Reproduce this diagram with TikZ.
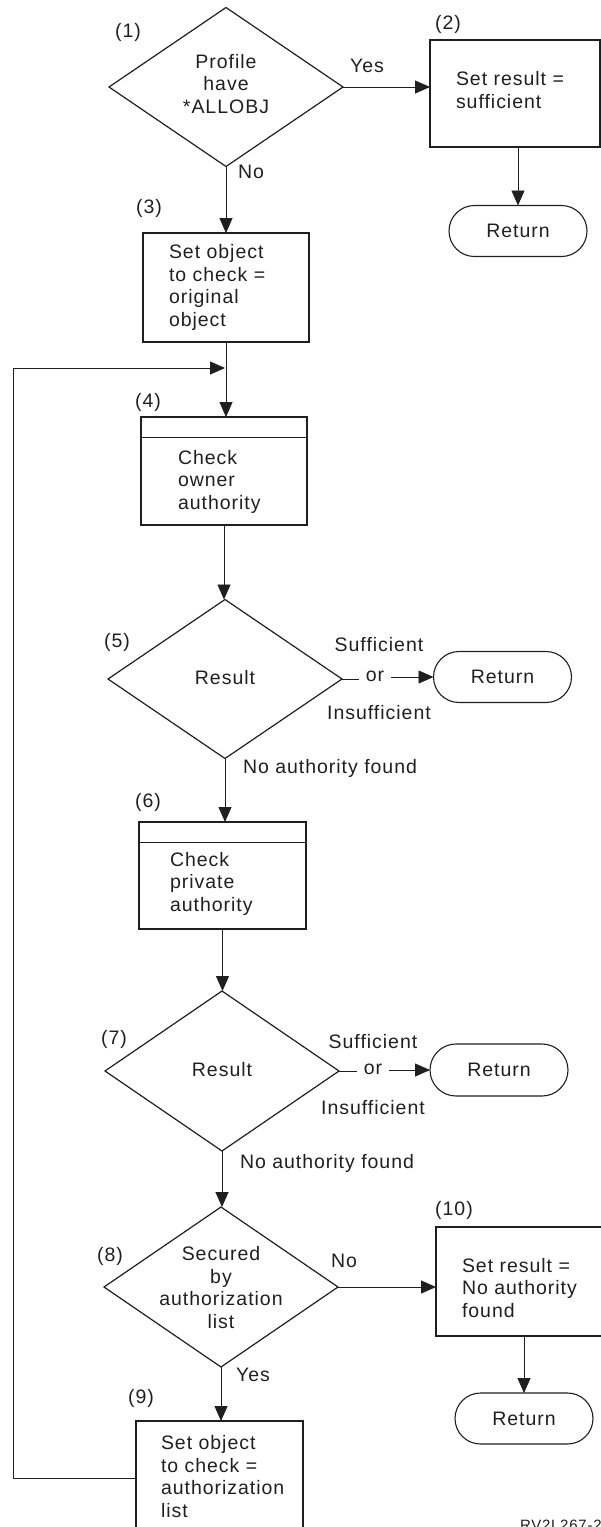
\documentclass[tikz,border=0pt]{standalone}
\usepackage{fontspec}
\setmainfont{Liberation Sans}[LetterSpace=5]
\usetikzlibrary{shapes.geometric,shapes.misc,arrows.meta}
\definecolor{ink}{gray}{0.12}

\begin{document}
\begin{tikzpicture}[x=1pt,y=-1pt,
  font=\fontsize{19.5}{22.5}\selectfont,
  every node/.style={inner sep=0pt, outer sep=0pt, text=ink},
  proc/.style={draw=ink, line width=1.2pt, rectangle},
  dec/.style={draw=ink, line width=1.2pt, diamond, minimum width=234pt, minimum height=159pt},
  term/.style={draw=ink, line width=1.1pt, rounded rectangle, minimum width=138pt, minimum height=51pt},
  % multi-line texts are placed by the baseline of their last line
  txt/.style={align=left, anchor=base west},
  ctxt/.style={align=center, anchor=base},
  wire/.style={draw=ink, line width=0.9pt},
  arr/.style={wire, -{Triangle[length=15pt,width=13pt]}}
]
\useasboundingbox (0,0) rectangle (601,1527);

% ---- (1) decision: *ALLOBJ
\node[dec] (d1) at (226,87) {};
\node[ctxt] (t1) at (226,113) {Profile\\have\\*ALLOBJ};
\node (n1) at (128,32) {(1)};

% ---- (2) sufficient
\node[proc, minimum width=170pt, minimum height=107pt] (b2) at (515,93.5) {};
\node[txt] (t2) at (456,108) {Set result =\\sufficient};
\node (n2) at (448,24) {(2)};
\node[term] (r1) at (518,231) {Return};
\node (yes1) at (367,66) {Yes};
\draw[arr] (d1.east) -- (d1.east -| b2.west);
\draw[arr] (r1.north |- b2.south) -- (r1.north);

% ---- (3) object = original object
\node (no1) at (251,172) {No};
\node (n3) at (149,208) {(3)};
\node[proc, minimum width=166pt, minimum height=109pt] (b3) at (226,287.5) {};
\node[txt] (t3) at (169,326) {Set object\\to check =\\original\\object};
\draw[arr] (d1.south) -- (d1.south |- b3.north);

% ---- (4) owner authority
\coordinate (join) at (225,368);
\node (n4) at (148,402) {(4)};
\node[proc, minimum width=166pt, minimum height=108pt] (b4) at (224,471) {};
\draw[wire] ([yshift=-20pt]b4.north west) -- ([yshift=-20pt]b4.north east);
\node[txt] (t4) at (178,509) {Check\\owner\\authority};
\draw[arr] (b3.south) -- (b3.south |- b4.north);

% ---- (5) result of owner check
\node[dec] (d5) at (225,679) {};
\node (t5) at (225,678) {Result};
\node (n5) at (117,642) {(5)};
\node (s5) at (379,645) {Sufficient};
\node[inner xsep=7pt] (o5) at (375,676) {or};
\node (i5) at (379,713) {Insufficient};
\node[term] (r5) at (502.5,677) {Return};
\draw[arr] (b4.south) -- (b4.south |- d5.north);
\draw[wire] (d5.east) -- (o5.west |- d5.east);
\draw[arr] (o5.east |- r5.west) -- (r5.west);

% ---- (6) private authority
\node[anchor=west] (f5) at (243,768) {No authority found};
\node (n6) at (148,802) {(6)};
\node[proc, minimum width=167pt, minimum height=107pt] (b6) at (222.5,875.5) {};
\draw[wire] ([yshift=-20pt]b6.north west) -- ([yshift=-20pt]b6.north east);
\node[txt] (t6) at (170,911) {Check\\private\\authority};
\draw[arr] (d5.south) -- (d5.south |- b6.north);

% ---- (7) result of private check
\node[dec, minimum height=160pt] (d7) at (222,1071) {};
\node (t7) at (222,1070) {Result};
\node (n7) at (114,1039) {(7)};
\node (s7) at (373,1042) {Sufficient};
\node[inner xsep=7pt] (o7) at (373,1069) {or};
\node (i7) at (373,1108) {Insufficient};
\node[term, minimum height=52pt] (r7) at (499,1070) {Return};
\draw[arr] (b6.south) -- (b6.south |- d7.north);
\draw[wire] (d7.east) -- (o7.west |- d7.east);
\draw[arr] (o7.east |- r7.west) -- (r7.west);

% ---- (8) authorization list?
\node[anchor=west] (f7) at (240,1163) {No authority found};
\node[dec, minimum height=160pt] (d8) at (221,1287) {};
\node[ctxt] (t8) at (221,1328) {Secured\\by\\authorization\\list};
\node (n8) at (110,1256) {(8)};
\draw[arr] (d7.south) -- (d7.south |- d8.north);

% ---- (10) no authority found
\node (no8) at (344,1261) {No};
\node (n10) at (454,1210) {(10)};
\node[proc, minimum width=167pt, minimum height=109pt] (b10) at (519.5,1281.5) {};
\node[txt] (t10) at (462,1317) {Set result =\\No authority\\found};
\node[term] (r10) at (524,1418.5) {Return};
\draw[arr] (d8.east) -- (d8.east -| b10.west);
\draw[arr] (r10.north |- b10.south) -- (r10.north);

% ---- (9) object = authorization list, back to (4)
\node (yes8) at (253,1375) {Yes};
\node (n9) at (141,1398) {(9)};
\node[proc, minimum width=167pt, minimum height=115pt] (b9) at (219.5,1478.5) {};
\node[txt] (t9) at (161,1517) {Set object\\to check =\\authorization\\list};
\draw[arr] (d8.south) -- (d8.south |- b9.north);
\coordinate (back) at (13,368);
\draw[arr] (b9.west) -| (back) -- (join);

% ---- figure number
\node[anchor=base west, font=\fontsize{15}{18}\selectfont] (fig) at (520,1530) {RV2L267-2};
\end{tikzpicture}
\end{document}
